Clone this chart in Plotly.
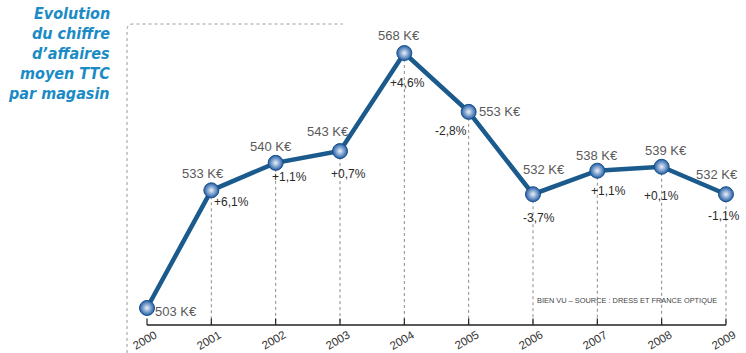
import plotly.graph_objects as go

years = [2000, 2001, 2002, 2003, 2004, 2005, 2006, 2007, 2008, 2009]
values = [503, 533, 540, 543, 568, 553, 532, 538, 539, 532]
value_labels = ["503 K€", "533 K€", "540 K€", "543 K€", "568 K€", "553 K€",
                "532 K€", "538 K€", "539 K€", "532 K€"]
pct_labels = ["", "+6,1%", "+1,1%", "+0,7%", "+4,6%", "-2,8%",
              "-3,7%", "+1,1%", "+0,1%", "-1,1%"]
tick_labels = ["2000", "2001", "2002", "2003", "2004", "2005",
               "2006", "2007", "2008", "2009"]
title_lines = ["Evolution", "du chiffre", "d’affaires", "moyen TTC", "par magasin"]
source = "BIEN VU – SOURCE : DRESS ET FRANCE OPTIQUE"

# label offsets (px)
val_off = [(29, -4), (-8, 17), (-5, 16), (-12, 20), (-5, 18), (31, 0),
           (11, 25), (0, 15), (4, 16), (-9, 20)]
pct_off = [(0, 0), (20, -12), (14, -14), (8, -23), (3, -30), (-18, -19),
           (6, -24), (11, -20), (0, -29), (-2, -22)]

Y0, Y1 = 498.66, 575.4
X0, X1 = 1999.689, 2009.218

fig = go.Figure()
fig.add_trace(go.Scatter(
    x=years, y=values, mode="lines+markers",
    line=dict(color="#1a5a8c", width=4.5),
    marker=dict(size=15, color="#1f5ea8",
                gradient=dict(type="radial", color="#eef0f8"),
                line=dict(color="#1a4f86", width=1)),
    hoverinfo="skip", showlegend=False, cliponaxis=False,
))

shapes = []
# vertical dotted drop lines
for x, v in zip(years[1:], values[1:]):
    shapes.append(dict(type="line", xref="x", yref="y", x0=x, x1=x,
                       y0=v, y1=Y0, line=dict(color="#8a8a8a", width=1, dash="dot"),
                       layer="below"))
# decorative dotted frame
shapes.append(dict(type="path", xref="paper", yref="paper",
                   path="M 0,-0.093 L 0,0.98 Q 0,1.0 0.0098,1.0 L 0.352,1.0",
                   line=dict(color="#9a9a9a", width=1, dash="dot")))
# baseline
shapes.append(dict(type="line", xref="paper", yref="paper",
                   x0=(years[0] - X0) / (X1 - X0), x1=(years[-1] - X0) / (X1 - X0),
                   y0=0, y1=0, line=dict(color="#222222", width=1.5)))
# inside ticks
for x in years:
    px = (x - X0) / (X1 - X0)
    shapes.append(dict(type="line", xref="paper", yref="paper", x0=px, x1=px,
                       y0=0, y1=0.022, line=dict(color="#222222", width=1.2)))

ann = []
for x, v, t, (dx, dy) in zip(years, values, value_labels, val_off):
    ann.append(dict(x=x, y=v, text=t, showarrow=False, xshift=dx, yshift=dy,
                    xanchor="center", yanchor="middle",
                    font=dict(family="Liberation Sans", size=13, color="#5a5a5a")))
for x, v, t, (dx, dy) in zip(years, values, pct_labels, pct_off):
    if t:
        ann.append(dict(x=x, y=v, text=t, showarrow=False, xshift=dx, yshift=dy,
                        xanchor="center", yanchor="middle",
                        font=dict(family="Liberation Sans", size=12, color="#2a2a2a")))
# rotated year labels
for x, t in zip(years, tick_labels):
    ann.append(dict(x=x, xref="x", y=0, yref="paper", text=t, showarrow=False,
                    textangle=-30, xshift=-2, yshift=-15,
                    xanchor="center", yanchor="middle",
                    font=dict(family="Liberation Sans", size=11.5, color="#333333")))
for i, s in enumerate(title_lines):
    ann.append(dict(x=-0.0245, y=1.0, xref="paper", yref="paper", xanchor="right",
                    yanchor="middle", yshift=11 - 20.2 * i, showarrow=False,
                    text="<b><i>%s</i></b>" % s,
                    font=dict(family="DejaVu Sans Condensed, DejaVu Sans", size=16,
                              color="#1b8bc6")))
ann.append(dict(x=0.665, y=0.083, xref="paper", yref="paper", xanchor="left",
                yanchor="middle", showarrow=False, text=source,
                font=dict(family="Liberation Sans", size=7.4, color="#444444")))

fig.update_layout(
    width=746, height=353,
    margin=dict(l=127, r=6, t=24, b=28),
    paper_bgcolor="white", plot_bgcolor="white",
    xaxis=dict(range=[X0, X1], showgrid=False, zeroline=False, showline=False,
               tickvals=years, ticks="", showticklabels=False),
    yaxis=dict(range=[Y0, Y1], visible=False),
    shapes=shapes, annotations=ann,
)

fig.write_html("out.html")
